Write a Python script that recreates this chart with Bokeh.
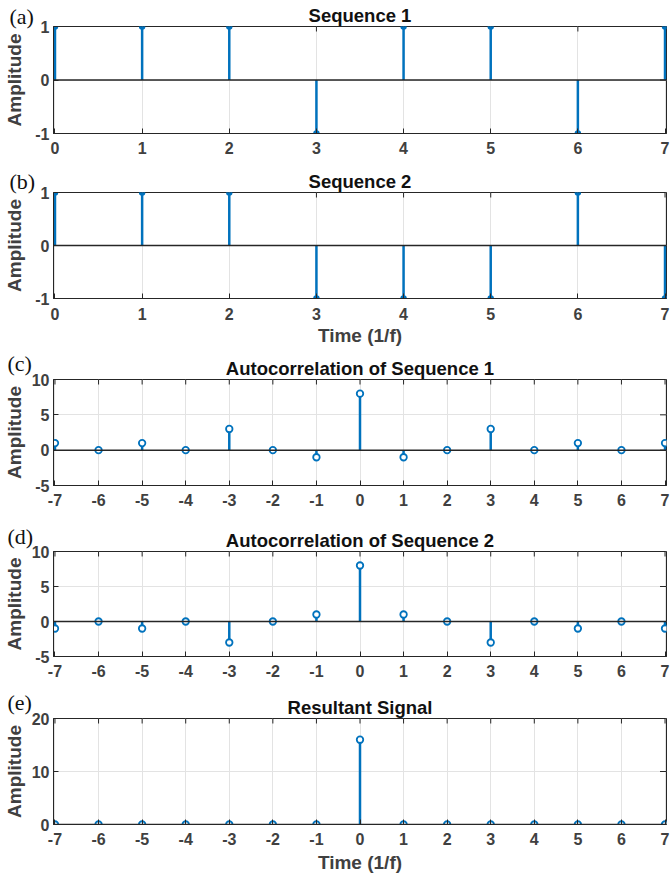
import math
from bokeh.plotting import figure
from bokeh.layouts import column
from bokeh.models import Span, Title, FixedTicker, Range1d
from bokeh.embed import file_html
from bokeh.resources import INLINE

# ---- data ----
t_seq = [0, 1, 2, 3, 4, 5, 6, 7]
seq1 = [1, 1, 1, -1, 1, 1, -1, 1]
seq2 = [1, 1, 1, -1, -1, -1, 1, -1]
lags = [-7, -6, -5, -4, -3, -2, -1, 0, 1, 2, 3, 4, 5, 6, 7]
acorr1 = [1, 0, 1, 0, 3, 0, -1, 8, -1, 0, 3, 0, 1, 0, 1]
acorr2 = [-1, 0, -1, 0, -3, 0, 1, 8, 1, 0, -3, 0, -1, 0, -1]
result = [0, 0, 0, 0, 0, 0, 0, 16, 0, 0, 0, 0, 0, 0, 0]

titles = ["Sequence 1", "Sequence 2", "Autocorrelation of Sequence 1",
          "Autocorrelation of Sequence 2", "Resultant Signal"]
panel_tags = ["(a)", "(b)", "(c)", "(d)", "(e)"]
yticks = [[-1, 0, 1], [-1, 0, 1], [-5, 0, 5, 10], [-5, 0, 5, 10], [0, 10, 20]]
yranges = [(-1, 1), (-1, 1), (-5, 10), (-5, 10), (0, 20)]

BLUE = "#0072BD"
AX = "#262626"
TXT = "#404040"
FONT = "Liberation Sans"

# layout per panel: height, border top/bottom/left/right, x-label?, xlabel standoff,
# xtick standoff, ylabel standoff, tag line height & standoff, x padding (data units)
specs = [
    dict(h=160, bt=26, bb=27, bl=51, br=5, xl=False, xls=0, xts=8, yls=7, lh=1.08, ts=-52, pad=0.017),
    dict(h=192, bt=32, bb=54, bl=51, br=5, xl=True, xls=2, xts=9, yls=7, lh=1.00, ts=-50, pad=0.017),
    dict(h=163, bt=27, bb=30, bl=53, br=3, xl=False, xls=0, xts=8, yls=4, lh=0.60, ts=-40, pad=0.034),
    dict(h=170, bt=36, bb=29, bl=53, br=3, xl=False, xls=0, xts=8, yls=4, lh=0.68, ts=-42, pad=0.034),
    dict(h=193, bt=33, bb=54, bl=53, br=3, xl=True, xls=4, xts=8, yls=4, lh=0.60, ts=-40, pad=0.034),
]

xs_list = [t_seq, t_seq, lags, lags, lags]
ys_list = [seq1, seq2, acorr1, acorr2, result]

figs = []
for i in range(5):
    s = specs[i]
    xs = xs_list[i]
    ys = ys_list[i]
    y0, y1 = yranges[i]
    p = figure(width=671, height=s["h"], output_backend="svg", toolbar_location=None,
               x_range=Range1d(min(xs) - s["pad"], max(xs) + s["pad"]),
               y_range=Range1d(y0, y1),
               min_border_top=s["bt"], min_border_bottom=s["bb"],
               min_border_left=s["bl"], min_border_right=s["br"])
    p.background_fill_color = "white"
    p.border_fill_color = "white"
    p.outline_line_color = AX
    p.outline_line_width = 1
    p.title.visible = False

    p.xaxis.ticker = FixedTicker(ticks=xs)
    p.yaxis.ticker = FixedTicker(ticks=yticks[i])
    p.xaxis.major_label_overrides = {v: str(v) for v in xs}
    p.yaxis.major_label_overrides = {v: str(v) for v in yticks[i]}
    for ax in (p.xaxis[0], p.yaxis[0]):
        ax.major_tick_in = 5
        ax.major_tick_out = 0
        ax.minor_tick_line_color = None
        ax.axis_line_color = AX
        ax.major_tick_line_color = AX
        ax.major_label_text_font = FONT
        ax.major_label_text_font_style = "bold"
        ax.major_label_text_font_size = "16px"
        ax.major_label_text_color = TXT
        ax.axis_label_text_font = FONT
        ax.axis_label_text_font_style = "bold"
        ax.axis_label_text_font_size = "19px"
        ax.axis_label_text_color = TXT
    p.xaxis.major_label_standoff = s["xts"]
    p.yaxis.major_label_standoff = 4
    p.yaxis.axis_label = "Amplitude"
    p.yaxis.axis_label_standoff = s["yls"]
    if s["xl"]:
        p.xaxis.axis_label = "Time (1/f)"
        p.xaxis.axis_label_standoff = s["xls"]

    p.grid.grid_line_color = "#e3e3e3"
    p.grid.grid_line_width = 1

    # main title (closest to the frame)
    p.add_layout(Title(text=titles[i], text_font=FONT, text_font_style="bold",
                       text_font_size="18.5px", text_color="#111111",
                       align="center", standoff=1), "above")
    # panel tag: outer title row; blank first line + negative standoff put it on the
    # title's line without taking extra room
    tag = Title(text=" \n" + panel_tags[i], text_font="Liberation Serif",
                text_font_style="normal", text_font_size="22px",
                text_color="#111111", align="left",
                offset=-(s["bl"] - 7), standoff=s["ts"])
    tag.text_line_height = s["lh"]
    p.add_layout(tag, "above")

    # inward tick marks on the top and right edges (box on)
    p.scatter(xs, [y1] * len(xs), marker="dash", size=10, angle=math.pi / 2,
              line_color=AX, line_width=1)
    p.scatter([max(xs)] * len(yticks[i]), yticks[i], marker="dash", size=10,
              line_color=AX, line_width=1)

    p.add_layout(Span(location=0, dimension="width", line_color=AX, line_width=1.5))
    p.segment(x0=xs, y0=[0] * len(xs), x1=xs, y1=ys, line_color=BLUE, line_width=2.5)
    if i < 2:
        p.scatter(xs, ys, size=5, marker="circle", line_color=BLUE,
                  line_width=1.5, fill_color=BLUE)
    else:
        p.scatter(xs, ys, size=6.5, marker="circle", line_color=BLUE,
                  line_width=1.8, fill_color="white")
    figs.append(p)

layout = column(*figs, spacing=0)
open("out.html", "w").write(file_html(layout, INLINE))
